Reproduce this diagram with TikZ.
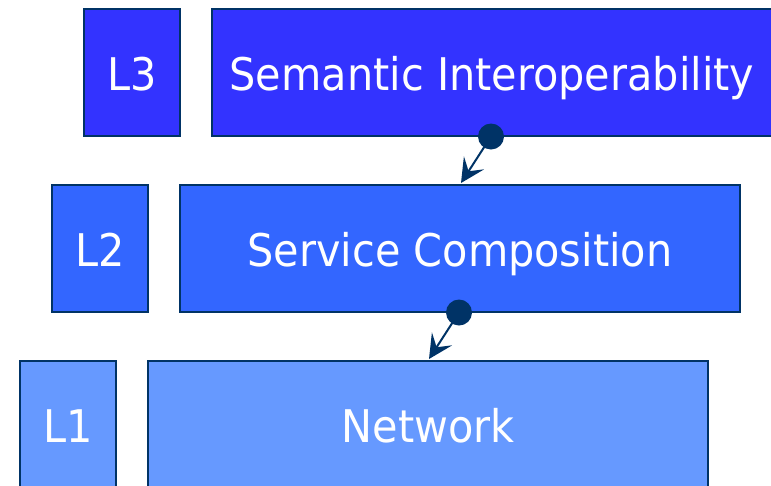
\documentclass[tikz,border=0pt]{standalone}
\usepackage{fontspec}
\setmainfont[FakeStretch=0.92]{DejaVu Sans}
\usetikzlibrary{arrows.meta}
\definecolor{cThree}{HTML}{3333FF}
\definecolor{cTwo}{HTML}{3366FF}
\definecolor{cOne}{HTML}{6699FF}
\definecolor{edge}{HTML}{003366}
\tikzset{
  layer/.style={draw=edge, line width=2pt, inner sep=0pt, minimum height=127pt},
  lbox/.style={layer, minimum width=96pt},
  wbox/.style={layer, minimum width=560pt},
  lbl/.style={text=white, font=\fontsize{45}{50}\selectfont, anchor=base, inner sep=0pt},
  link/.style={draw=edge, line width=2pt, -{Stealth[length=24pt, width=24pt, inset=10pt]}},
  dot/.style={circle, fill=edge, minimum size=26pt, inner sep=0pt}
}
\begin{document}
\begin{tikzpicture}[x=1pt, y=-1pt]
\useasboundingbox (0,0) rectangle (771,485);
\clip (0,0) rectangle (771,485);
% boxes
\node[lbox, fill=cThree] (l3) at (132,72.5) {};
\node[wbox, fill=cThree] (b3) at (492,72.5) {};
\node[lbox, fill=cTwo] (l2) at (100,248.5) {};
\node[wbox, fill=cTwo] (b2) at (460,248.5) {};
\node[lbox, fill=cOne] (l1) at (68,424.5) {};
\node[wbox, fill=cOne] (b1) at (428,424.5) {};
% texts
\node[lbl] (t3) at (132,90) {L3};
\node[lbl] (s3) at (492,90) {Semantic Interoperability};
\node[lbl] (t2) at (100,266) {L2};
\node[lbl] (s2) at (460,266) {Service Composition};
\node[lbl] (t1) at (68,442) {L1};
\node[lbl] (s1) at (428,442) {Network};
% connectors
\coordinate (a3) at (491,136.5);
\coordinate (h2) at (461,183);
\coordinate (a2) at (459,312.5);
\coordinate (h1) at (429,359);
\draw[link] (a3) -- (h2);
\draw[link] (a2) -- (h1);
\node[dot] (d3) at (a3) {};
\node[dot] (d2) at (a2) {};
\end{tikzpicture}
\end{document}
